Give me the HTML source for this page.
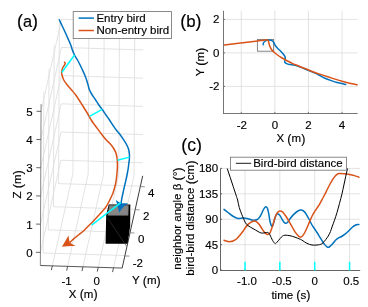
<!DOCTYPE html>
<html><head><meta charset="utf-8"><style>
html,body{margin:0;padding:0;background:#fff;}
svg{display:block;will-change:transform;}
text{font-family:"Liberation Sans",sans-serif;fill:#000;stroke:#000;stroke-width:0.15px;}
</style></head><body>
<svg width="368" height="307" viewBox="0 0 368 307">
<rect width="368" height="307" fill="#fff"/>
<g stroke-linecap="butt">
<line x1="52.34" y1="265.87" x2="72.88" y2="173.68" stroke="#dcdcdc" stroke-width="0.8" />
<line x1="72.88" y1="173.68" x2="73.62" y2="12.29" stroke="#dcdcdc" stroke-width="0.8" />
<line x1="67.64" y1="266.35" x2="88.18" y2="174.16" stroke="#dcdcdc" stroke-width="0.8" />
<line x1="88.18" y1="174.16" x2="88.91" y2="12.77" stroke="#dcdcdc" stroke-width="0.8" />
<line x1="82.93" y1="266.83" x2="103.47" y2="174.64" stroke="#dcdcdc" stroke-width="0.8" />
<line x1="103.47" y1="174.64" x2="104.21" y2="13.25" stroke="#dcdcdc" stroke-width="0.8" />
<line x1="98.23" y1="267.31" x2="118.77" y2="175.12" stroke="#dcdcdc" stroke-width="0.8" />
<line x1="118.77" y1="175.12" x2="119.5" y2="13.73" stroke="#dcdcdc" stroke-width="0.8" />
<line x1="113.52" y1="267.79" x2="134.06" y2="175.6" stroke="#dcdcdc" stroke-width="0.8" />
<line x1="134.06" y1="175.6" x2="134.8" y2="14.21" stroke="#dcdcdc" stroke-width="0.8" />
<line x1="43.14" y1="252.99" x2="124.94" y2="255.55" stroke="#dcdcdc" stroke-width="0.8" />
<line x1="43.14" y1="252.99" x2="43.87" y2="91.6" stroke="#dcdcdc" stroke-width="0.8" />
<line x1="48.29" y1="229.87" x2="130.09" y2="232.43" stroke="#dcdcdc" stroke-width="0.8" />
<line x1="48.29" y1="229.87" x2="49.02" y2="68.47" stroke="#dcdcdc" stroke-width="0.8" />
<line x1="53.44" y1="206.74" x2="135.24" y2="209.3" stroke="#dcdcdc" stroke-width="0.8" />
<line x1="53.44" y1="206.74" x2="54.18" y2="45.35" stroke="#dcdcdc" stroke-width="0.8" />
<line x1="58.59" y1="183.62" x2="140.39" y2="186.18" stroke="#dcdcdc" stroke-width="0.8" />
<line x1="58.59" y1="183.62" x2="59.33" y2="22.23" stroke="#dcdcdc" stroke-width="0.8" />
<line x1="60.95" y1="160.22" x2="142.75" y2="162.78" stroke="#dcdcdc" stroke-width="0.8" />
<line x1="40.41" y1="252.41" x2="60.95" y2="160.22" stroke="#dcdcdc" stroke-width="0.8" />
<line x1="61.08" y1="132.02" x2="142.88" y2="134.58" stroke="#dcdcdc" stroke-width="0.8" />
<line x1="40.54" y1="224.21" x2="61.08" y2="132.02" stroke="#dcdcdc" stroke-width="0.8" />
<line x1="61.21" y1="103.82" x2="143.01" y2="106.38" stroke="#dcdcdc" stroke-width="0.8" />
<line x1="40.67" y1="196.01" x2="61.21" y2="103.82" stroke="#dcdcdc" stroke-width="0.8" />
<line x1="61.34" y1="75.62" x2="143.14" y2="78.18" stroke="#dcdcdc" stroke-width="0.8" />
<line x1="40.79" y1="167.81" x2="61.34" y2="75.62" stroke="#dcdcdc" stroke-width="0.8" />
<line x1="61.47" y1="47.42" x2="143.26" y2="49.98" stroke="#dcdcdc" stroke-width="0.8" />
<line x1="40.92" y1="139.61" x2="61.47" y2="47.42" stroke="#dcdcdc" stroke-width="0.8" />
<line x1="61.59" y1="19.22" x2="143.39" y2="21.78" stroke="#dcdcdc" stroke-width="0.8" />
<line x1="41.05" y1="111.41" x2="61.59" y2="19.22" stroke="#dcdcdc" stroke-width="0.8" />
</g>
<polygon points="108.7,204.6 130.3,204.6 130.2,226 127.7,243.8 105.6,243.8 106.2,215" fill="#000"/>
<polygon points="109.3,205.2 128.6,205.2 128.1,215.4 107.8,215.4" fill="#858585" stroke="#555" stroke-width="0.5"/>
<line x1="107.5" y1="218" x2="126.4" y2="246" stroke="#3a3a3a" stroke-width="0.6" />
<path d="M59.3,19.8 C60.12,21.53 60.95,23.3 61.75,25 C62.55,26.7 63.32,28.33 64.1,30 C64.88,31.67 65.65,33.33 66.4,35 C67.15,36.67 67.88,38.33 68.6,40 C69.32,41.67 70.12,43.33 70.75,45 C71.38,46.67 71.78,48.33 72.4,50 C73.03,51.67 73.65,53.33 74.5,55 C75.35,56.67 76.57,58.33 77.5,60 C78.43,61.67 79.27,63.33 80.1,65 C80.93,66.67 81.72,68.33 82.5,70 C83.28,71.67 84.07,73.33 84.75,75 C85.43,76.67 86.04,78.33 86.6,80 C87.16,81.67 87.65,83.42 88.1,85 C88.55,86.58 88.72,88 89.3,89.5 C89.88,91 90.65,92.42 91.6,94 C92.55,95.58 93.85,97.25 95,99 C96.15,100.75 97.3,102.75 98.5,104.5 C99.7,106.25 100.95,107.75 102.2,109.5 C103.45,111.25 104.78,113.25 106,115 C107.22,116.75 108.38,118.33 109.5,120 C110.62,121.67 111.62,123.33 112.75,125 C113.88,126.67 115.04,128.42 116.25,130 C117.46,131.58 118.86,133 120,134.5 C121.14,136 122.06,137.42 123.1,139 C124.14,140.58 125.35,142.33 126.25,144 C127.15,145.67 127.97,147.33 128.5,149 C129.03,150.67 129.25,152.33 129.4,154 C129.55,155.67 129.51,157.33 129.4,159 C129.29,160.67 128.95,162.42 128.75,164 C128.55,165.58 128.42,167 128.2,168.5 C127.97,170 127.7,171.42 127.4,173 C127.1,174.58 126.76,176.33 126.4,178 C126.04,179.67 125.63,181.33 125.25,183 C124.87,184.67 124.47,186.33 124.1,188 C123.72,189.67 123.37,191.33 123,193 C122.63,194.67 122.17,196.67 121.9,198 C121.63,199.33 121.52,200.17 121.4,201 C121.28,201.83 121.27,202.33 121.2,203" fill="none" stroke="#0072BD" stroke-width="1.5" stroke-linejoin="round" stroke-linecap="round" />
<path d="M64.5,62.2 C64.77,62.57 65.32,62.8 65.3,63.3 C65.28,63.8 64.8,64.5 64.4,65.2 C64,65.9 63.3,66.7 62.9,67.5 C62.5,68.3 62.22,69.17 62,70 C61.78,70.83 61.6,71.67 61.6,72.5 C61.6,73.33 61.64,73.75 62,75 C62.36,76.25 62.88,78.33 63.75,80 C64.62,81.67 65.94,83.33 67.25,85 C68.56,86.67 70.18,88.33 71.6,90 C73.02,91.67 74.5,93.33 75.75,95 C77,96.67 78.02,98.33 79.1,100 C80.18,101.67 81.2,103.33 82.25,105 C83.3,106.67 84.38,108.33 85.4,110 C86.43,111.67 87.43,113.33 88.4,115 C89.37,116.67 90.15,118.33 91.2,120 C92.25,121.67 93.5,123.33 94.7,125 C95.9,126.67 97.15,128.33 98.4,130 C99.65,131.67 100.88,133.33 102.2,135 C103.52,136.67 104.87,138.42 106.3,140 C107.73,141.58 109.52,143 110.8,144.5 C112.08,146 113.12,147.5 114,149 C114.88,150.5 115.6,152 116.1,153.5 C116.6,155 116.78,156.42 117,158 C117.22,159.58 117.33,161.33 117.4,163 C117.47,164.67 117.47,166.33 117.4,168 C117.33,169.67 117.15,171.33 117,173 C116.85,174.67 116.71,176.33 116.5,178 C116.29,179.67 116.08,181.33 115.75,183 C115.42,184.67 114.96,186.33 114.5,188 C114.04,189.67 113.62,191.33 113,193 C112.38,194.67 111.54,196.33 110.75,198 C109.96,199.67 109.11,201.42 108.25,203 C107.39,204.58 106.39,206.33 105.6,207.5 C104.81,208.67 104.6,208.75 103.5,210 C102.4,211.25 100.52,213.33 99,215 C97.48,216.67 96,218.33 94.4,220 C92.8,221.67 91.03,223.33 89.4,225 C87.77,226.67 86.42,228.33 84.6,230 C82.78,231.67 80.22,233.6 78.5,235 C76.78,236.4 75.72,237.18 74.3,238.4 C72.88,239.62 71.43,241 70,242.3" fill="none" stroke="#D95319" stroke-width="1.5" stroke-linejoin="round" stroke-linecap="round" />
<path d="M119.4,212.8 Q117.5,205.5 115.8,200.1 Q119,202.4 121.7,203.3 Q125,203.2 128.1,203.3 Q122,207 119.4,212.8 Z" fill="#0072BD"/>
<path d="M61.9,246.7 Q65.3,241 68.5,235.4 Q68.9,239.5 69.8,242.5 Q72.9,244.7 75.6,246.1 Q68.5,245.8 61.9,246.7 Z" fill="#D95319"/>
<line x1="74.5" y1="55" x2="61.7" y2="72.5" stroke="#00FFFF" stroke-width="1.5" />
<line x1="102.2" y1="109.3" x2="89.5" y2="116.3" stroke="#00FFFF" stroke-width="1.5" />
<line x1="129.4" y1="157.1" x2="117.4" y2="160.3" stroke="#00FFFF" stroke-width="1.5" />
<line x1="120.8" y1="202.7" x2="91.6" y2="225.1" stroke="#00FFFF" stroke-width="1.5" />
<line x1="40.35" y1="265.5" x2="41.08" y2="104.11" stroke="#777" stroke-width="0.9" />
<line x1="40.35" y1="265.5" x2="122.15" y2="268.06" stroke="#444" stroke-width="0.9" />
<line x1="122.15" y1="268.06" x2="142.69" y2="175.87" stroke="#262626" stroke-width="0.9" />
<line x1="40.41" y1="252.41" x2="35.91" y2="252.27" stroke="#555" stroke-width="0.9" />
<line x1="40.54" y1="224.21" x2="36.04" y2="224.07" stroke="#555" stroke-width="0.9" />
<line x1="40.67" y1="196.01" x2="36.17" y2="195.87" stroke="#555" stroke-width="0.9" />
<line x1="40.79" y1="167.81" x2="36.3" y2="167.67" stroke="#555" stroke-width="0.9" />
<line x1="40.92" y1="139.61" x2="36.43" y2="139.47" stroke="#555" stroke-width="0.9" />
<line x1="41.05" y1="111.41" x2="36.55" y2="111.27" stroke="#555" stroke-width="0.9" />
<line x1="52.34" y1="265.87" x2="51.38" y2="270.17" stroke="#444" stroke-width="0.9" />
<line x1="67.64" y1="266.35" x2="66.68" y2="270.65" stroke="#444" stroke-width="0.9" />
<line x1="82.93" y1="266.83" x2="81.97" y2="271.13" stroke="#444" stroke-width="0.9" />
<line x1="98.23" y1="267.31" x2="97.27" y2="271.61" stroke="#444" stroke-width="0.9" />
<line x1="113.52" y1="267.79" x2="112.56" y2="272.09" stroke="#444" stroke-width="0.9" />
<line x1="124.94" y1="255.95" x2="129.33" y2="256.09" stroke="#777" stroke-width="0.8" />
<line x1="130.09" y1="232.83" x2="134.49" y2="232.97" stroke="#777" stroke-width="0.8" />
<line x1="135.24" y1="209.7" x2="139.64" y2="209.84" stroke="#777" stroke-width="0.8" />
<line x1="140.39" y1="186.58" x2="144.79" y2="186.72" stroke="#777" stroke-width="0.8" />
<text x="32.7" y="256.81" text-anchor="end" font-size="11.5" >0</text>
<text x="32.7" y="228.61" text-anchor="end" font-size="11.5" >1</text>
<text x="32.7" y="200.41" text-anchor="end" font-size="11.5" >2</text>
<text x="32.7" y="172.21" text-anchor="end" font-size="11.5" >3</text>
<text x="32.7" y="144.01" text-anchor="end" font-size="11.5" >4</text>
<text x="32.7" y="115.81" text-anchor="end" font-size="11.5" >5</text>
<text x="66.6" y="285.4" text-anchor="middle" font-size="11.5" >-1</text>
<text x="96.8" y="285.4" text-anchor="middle" font-size="11.5" >0</text>
<text x="137.9" y="267.4" text-anchor="middle" font-size="11.5" >-2</text>
<text x="141.3" y="242.5" text-anchor="middle" font-size="11.5" >0</text>
<text x="146.3" y="219.8" text-anchor="middle" font-size="11.5" >2</text>
<text x="151.3" y="197" text-anchor="middle" font-size="11.5" >4</text>
<text x="83.2" y="297.7" text-anchor="middle" font-size="11.5" >X <tspan font-size="12.54" dy="0.75">(</tspan><tspan dy="-0.75">m</tspan><tspan font-size="12.54" dy="0.75">)</tspan></text>
<text x="146.4" y="283.8" text-anchor="middle" font-size="11.5" >Y <tspan font-size="12.54" dy="0.75">(</tspan><tspan dy="-0.75">m</tspan><tspan font-size="12.54" dy="0.75">)</tspan></text>
<text x="0" y="0" text-anchor="middle" font-size="11.5" transform="translate(20.8,184.4) rotate(-90)">Z <tspan font-size="12.54" dy="0.75">(</tspan><tspan dy="-0.75">m</tspan><tspan font-size="12.54" dy="0.75">)</tspan></text>
<rect x="73.2" y="11.6" width="98.3" height="27" fill="#fff" stroke="#6e6e6e" stroke-width="0.8"/>
<line x1="78.6" y1="18.1" x2="93.9" y2="18.1" stroke="#0072BD" stroke-width="1.5" />
<line x1="78.6" y1="30.5" x2="93.9" y2="30.5" stroke="#D95319" stroke-width="1.5" />
<text x="96.4" y="21.7" text-anchor="start" font-size="11.5" >Entry bird</text>
<text x="96.4" y="34.3" text-anchor="start" font-size="11.5" >Non-entry bird</text>
<text y="27.4" font-size="17.9"><tspan x="17.1">(</tspan><tspan x="23.06" font-size="16.3">a</tspan><tspan x="32.12">)</tspan></text>
<line x1="241.25" y1="10.8" x2="241.25" y2="113.5" stroke="#dcdcdc" stroke-width="0.8" />
<line x1="274.85" y1="10.8" x2="274.85" y2="113.5" stroke="#dcdcdc" stroke-width="0.8" />
<line x1="308.45" y1="10.8" x2="308.45" y2="113.5" stroke="#dcdcdc" stroke-width="0.8" />
<line x1="342.05" y1="10.8" x2="342.05" y2="113.5" stroke="#dcdcdc" stroke-width="0.8" />
<line x1="223.5" y1="86.4" x2="357.7" y2="86.4" stroke="#dcdcdc" stroke-width="0.8" />
<line x1="223.5" y1="52.9" x2="357.7" y2="52.9" stroke="#dcdcdc" stroke-width="0.8" />
<line x1="223.5" y1="19.4" x2="357.7" y2="19.4" stroke="#dcdcdc" stroke-width="0.8" />
<rect x="257.4" y="39.5" width="16.2" height="11.7" fill="none" stroke="#7a7a7a" stroke-width="0.9"/>
<clipPath id="cb"><rect x="223.5" y="10.8" width="134.2" height="102.7"/></clipPath>
<g clip-path="url(#cb)">
<path d="M263.1,44.75 C263.23,44.08 263.18,43.33 263.5,42.75 C263.82,42.17 264.45,41.66 265,41.25 C265.55,40.84 266.18,40.51 266.8,40.3 C267.43,40.09 267.9,39.95 268.75,40 C269.6,40.05 271.07,40.18 271.9,40.6 C272.73,41.02 273.23,41.77 273.75,42.5 C274.27,43.23 274.48,44.17 275,45 C275.52,45.83 276.17,46.67 276.9,47.5 C277.63,48.33 278.57,49.17 279.4,50 C280.23,50.83 281.13,51.67 281.9,52.5 C282.67,53.33 283.44,54.17 284,55 C284.56,55.83 285.08,56.67 285.25,57.5 C285.42,58.33 285.09,59.27 285,60 C284.91,60.73 284.6,61.38 284.7,61.9 C284.8,62.42 285.05,62.73 285.6,63.1 C286.15,63.47 287.18,63.85 288,64.1 C288.82,64.35 289.33,64.38 290.5,64.6 C291.67,64.82 292.58,64.67 295,65.4 C297.42,66.13 301.67,67.72 305,69 C308.33,70.28 312.5,72 315,73.1 C317.5,74.2 318.33,74.73 320,75.6 C321.67,76.47 323,77.42 325,78.3 C327,79.18 330,80.2 332,80.9 C334,81.6 335.33,82.05 337,82.5 C338.67,82.95 340.54,83.28 342,83.6 C343.46,83.92 344.5,84.13 345.75,84.4" fill="none" stroke="#0072BD" stroke-width="1.5" stroke-linejoin="round" stroke-linecap="round" />
<path d="M223.5,45 C226.5,44.67 228.92,44.42 232.5,44 C236.08,43.58 240.83,43 245,42.5 C249.17,42 254.67,41.35 257.5,41 C260.33,40.65 260.67,40.56 262,40.4 C263.33,40.24 264.6,40.13 265.5,40.05 C266.4,39.97 266.95,39.82 267.4,39.9 C267.85,39.98 267.98,40.1 268.2,40.5 C268.42,40.9 268.5,41.55 268.7,42.3 C268.9,43.05 269.12,44.13 269.4,45 C269.68,45.87 269.98,46.67 270.4,47.5 C270.82,48.33 271.23,49.17 271.9,50 C272.57,50.83 273.47,51.67 274.4,52.5 C275.33,53.33 276.36,54.17 277.5,55 C278.64,55.83 279.9,56.67 281.25,57.5 C282.6,58.33 284.04,59.17 285.6,60 C287.16,60.83 288.95,61.7 290.6,62.5 C292.25,63.3 293.1,63.8 295.5,64.8 C297.9,65.8 301.75,67.22 305,68.5 C308.25,69.78 312.17,71.43 315,72.5 C317.83,73.57 319.17,73.97 322,74.9 C324.83,75.83 328.67,77.03 332,78.1 C335.33,79.17 338.67,80.35 342,81.3 C345.33,82.25 349.4,83.22 352,83.8 C354.6,84.38 355.73,84.43 357.6,84.75" fill="none" stroke="#D95319" stroke-width="1.5" stroke-linejoin="round" stroke-linecap="round" />
</g>
<line x1="223.5" y1="10.8" x2="223.5" y2="113.95" stroke="#666" stroke-width="0.9" />
<line x1="223.05" y1="113.5" x2="357.7" y2="113.5" stroke="#666" stroke-width="0.9" />
<line x1="241.25" y1="113.5" x2="241.25" y2="111.9" stroke="#666" stroke-width="0.9" />
<line x1="274.85" y1="113.5" x2="274.85" y2="111.9" stroke="#666" stroke-width="0.9" />
<line x1="308.45" y1="113.5" x2="308.45" y2="111.9" stroke="#666" stroke-width="0.9" />
<line x1="342.05" y1="113.5" x2="342.05" y2="111.9" stroke="#666" stroke-width="0.9" />
<line x1="223.5" y1="86.4" x2="225.1" y2="86.4" stroke="#666" stroke-width="0.9" />
<line x1="223.5" y1="52.9" x2="225.1" y2="52.9" stroke="#666" stroke-width="0.9" />
<line x1="223.5" y1="19.4" x2="225.1" y2="19.4" stroke="#666" stroke-width="0.9" />
<text x="241.75" y="128.6" text-anchor="middle" font-size="11.5" >-2</text>
<text x="274.85" y="128.6" text-anchor="middle" font-size="11.5" >0</text>
<text x="308.45" y="128.6" text-anchor="middle" font-size="11.5" >2</text>
<text x="342.05" y="128.6" text-anchor="middle" font-size="11.5" >4</text>
<text x="219.5" y="90.4" text-anchor="end" font-size="11.5" >-2</text>
<text x="219.5" y="56.9" text-anchor="end" font-size="11.5" >0</text>
<text x="219.5" y="23.4" text-anchor="end" font-size="11.5" >2</text>
<text x="290.9" y="142.2" text-anchor="middle" font-size="11.5" >X <tspan font-size="12.54" dy="0.75">(</tspan><tspan dy="-0.75">m</tspan><tspan font-size="12.54" dy="0.75">)</tspan></text>
<text x="0" y="0" text-anchor="middle" font-size="11.5" transform="translate(204.3,62) rotate(-90)">Y <tspan font-size="12.54" dy="0.75">(</tspan><tspan dy="-0.75">m</tspan><tspan font-size="12.54" dy="0.75">)</tspan></text>
<text y="27" font-size="17.9"><tspan x="180.2">(</tspan><tspan x="186.16" font-size="16.8">b</tspan><tspan x="195.5">)</tspan></text>
<line x1="245" y1="168.4" x2="245" y2="270.5" stroke="#dcdcdc" stroke-width="0.8" />
<line x1="279.85" y1="168.4" x2="279.85" y2="270.5" stroke="#dcdcdc" stroke-width="0.8" />
<line x1="314.7" y1="168.4" x2="314.7" y2="270.5" stroke="#dcdcdc" stroke-width="0.8" />
<line x1="349.55" y1="168.4" x2="349.55" y2="270.5" stroke="#dcdcdc" stroke-width="0.8" />
<line x1="220.5" y1="244.68" x2="360.2" y2="244.68" stroke="#dcdcdc" stroke-width="0.8" />
<line x1="220.5" y1="219.25" x2="360.2" y2="219.25" stroke="#dcdcdc" stroke-width="0.8" />
<line x1="220.5" y1="193.83" x2="360.2" y2="193.83" stroke="#dcdcdc" stroke-width="0.8" />
<line x1="220.5" y1="168.4" x2="360.2" y2="168.4" stroke="#dcdcdc" stroke-width="0.8" />
<clipPath id="cc"><rect x="220.5" y="168.4" width="139.7" height="102.1"/></clipPath>
<g clip-path="url(#cc)">
<path d="M224,209.4 C225.33,210.43 226.5,211.36 228,212.5 C229.5,213.64 231.33,215.25 233,216.25 C234.67,217.25 236.33,218.19 238,218.5 C239.67,218.81 241.33,218.06 243,218.1 C244.67,218.14 246.33,218.39 248,218.75 C249.67,219.11 251.54,220.08 253,220.25 C254.46,220.42 255.71,220.19 256.75,219.75 C257.79,219.31 258.46,218.59 259.25,217.6 C260.04,216.61 260.84,215.07 261.5,213.8 C262.16,212.53 262.62,211.09 263.2,210 C263.78,208.91 264.49,207.78 265,207.25 C265.51,206.72 265.83,206.59 266.25,206.8 C266.67,207.01 267.08,207.34 267.5,208.5 C267.92,209.66 268.33,211.62 268.75,213.75 C269.17,215.88 269.58,219.31 270,221.25 C270.42,223.19 270.83,224.59 271.25,225.4 C271.67,226.21 272.08,226.58 272.5,226.1 C272.92,225.62 273.23,224.14 273.75,222.5 C274.27,220.86 274.98,217.71 275.6,216.25 C276.23,214.79 276.77,213.86 277.5,213.75 C278.23,213.64 279.17,214.56 280,215.6 C280.83,216.64 281.67,218.75 282.5,220 C283.33,221.25 284.17,222.68 285,223.1 C285.83,223.52 286.67,223.22 287.5,222.5 C288.33,221.78 288.96,220.1 290,218.75 C291.04,217.4 292.5,215.65 293.75,214.4 C295,213.15 296.25,211.97 297.5,211.25 C298.75,210.53 300.08,209.99 301.25,210.1 C302.42,210.21 303.54,210.98 304.5,211.9 C305.46,212.82 306.17,214.25 307,215.6 C307.83,216.95 308.67,218.43 309.5,220 C310.33,221.57 311.17,223.54 312,225 C312.83,226.46 313.67,227.5 314.5,228.75 C315.33,230 315.96,230.86 317,232.5 C318.04,234.14 319.5,236.62 320.75,238.6 C322,240.58 323.46,243.02 324.5,244.4 C325.54,245.78 326.27,246.43 327,246.9 C327.73,247.37 328.07,247.58 328.9,247.2 C329.73,246.82 330.86,245.8 332,244.6 C333.14,243.4 334.5,241.2 335.75,240 C337,238.8 338.46,238.03 339.5,237.4 C340.54,236.78 340.75,237.07 342,236.25 C343.25,235.43 345.33,233.96 347,232.5 C348.67,231.04 350.54,228.75 352,227.5 C353.46,226.25 354.6,225.52 355.75,225 C356.9,224.48 357.85,224.6 358.9,224.4" fill="none" stroke="#0072BD" stroke-width="1.5" stroke-linejoin="round" stroke-linecap="round" />
<path d="M224,240.25 C225.33,240.67 226.92,241.28 228,241.5 C229.08,241.72 229.67,241.68 230.5,241.6 C231.33,241.52 231.96,241.47 233,241 C234.04,240.53 235.5,239.85 236.75,238.75 C238,237.65 239.46,235.65 240.5,234.4 C241.54,233.15 242.38,232.08 243,231.25 C243.62,230.42 243.42,230.54 244.25,229.4 C245.08,228.26 246.54,225.76 248,224.4 C249.46,223.04 251.75,221.78 253,221.25 C254.25,220.72 254.67,220.94 255.5,221.25 C256.33,221.56 257.2,222.31 258,223.1 C258.8,223.89 259.55,224.92 260.3,226 C261.05,227.08 261.72,228.45 262.5,229.6 C263.28,230.75 264.17,232.1 265,232.9 C265.83,233.7 266.67,234.42 267.5,234.4 C268.33,234.38 269.17,234.16 270,232.8 C270.83,231.44 271.67,228.8 272.5,226.25 C273.33,223.7 274.17,219.79 275,217.5 C275.83,215.21 276.67,213.58 277.5,212.5 C278.33,211.42 279.17,211.1 280,211 C280.83,210.9 281.67,211.23 282.5,211.9 C283.33,212.57 284.17,213.86 285,215 C285.83,216.14 286.67,217.4 287.5,218.75 C288.33,220.1 289.17,221.64 290,223.1 C290.83,224.56 291.67,226.03 292.5,227.5 C293.33,228.97 294.17,230.65 295,231.9 C295.83,233.15 296.67,234.13 297.5,235 C298.33,235.87 299.17,236.93 300,237.1 C300.83,237.27 301.7,236.77 302.5,236 C303.3,235.23 304.05,233.87 304.8,232.5 C305.55,231.13 306.22,229.57 307,227.8 C307.78,226.03 308.67,223.83 309.5,221.9 C310.33,219.97 311.17,217.92 312,216.25 C312.83,214.58 313.67,213.26 314.5,211.9 C315.33,210.54 316.17,209.35 317,208.1 C317.83,206.85 318.67,205.82 319.5,204.4 C320.33,202.98 321.17,201.17 322,199.6 C322.83,198.03 323.67,196.6 324.5,195 C325.33,193.4 326.17,191.67 327,190 C327.83,188.33 328.67,186.57 329.5,185 C330.33,183.43 331.17,181.95 332,180.6 C332.83,179.25 333.67,177.93 334.5,176.9 C335.33,175.87 336.17,174.97 337,174.4 C337.83,173.83 338.25,173.61 339.5,173.5 C340.75,173.39 342.83,173.6 344.5,173.75 C346.17,173.9 347.83,174.09 349.5,174.4 C351.17,174.71 352.93,175.12 354.5,175.6 C356.07,176.07 357.43,176.7 358.9,177.25" fill="none" stroke="#D95319" stroke-width="1.5" stroke-linejoin="round" stroke-linecap="round" />
<path d="M227.2,168.4 C228.23,171.5 229.3,174.68 230.3,177.7 C231.3,180.72 232.25,183.62 233.2,186.5 C234.15,189.38 235.27,192.75 236,195 C236.73,197.25 237.06,197.92 237.6,200 C238.14,202.08 238.56,205.1 239.25,207.5 C239.94,209.9 241.03,212.53 241.75,214.4 C242.47,216.28 242.97,217.33 243.6,218.75 C244.22,220.17 244.77,221.76 245.5,222.9 C246.23,224.04 246.75,224.65 248,225.6 C249.25,226.55 251.33,227.62 253,228.6 C254.67,229.58 256.58,230.75 258,231.5 C259.42,232.25 260.33,232.89 261.5,233.1 C262.67,233.31 264,232.87 265,232.75 C266,232.63 266.88,232.36 267.5,232.4 C268.12,232.44 268.33,232.57 268.75,233 C269.17,233.43 269.38,233.78 270,235 C270.62,236.22 271.67,238.88 272.5,240.3 C273.33,241.72 274.27,243.15 275,243.5 C275.73,243.85 276.07,243.22 276.9,242.4 C277.73,241.58 279.07,239.65 280,238.6 C280.93,237.55 281.67,236.67 282.5,236.1 C283.33,235.53 283.75,235.27 285,235.2 C286.25,235.13 288.33,235.37 290,235.7 C291.67,236.03 293.33,236.62 295,237.2 C296.67,237.78 298.83,238.7 300,239.2 C301.17,239.7 300.83,239.5 302,240.2 C303.17,240.9 305.33,242.6 307,243.4 C308.67,244.2 310.33,244.73 312,245 C313.67,245.27 315.33,245.21 317,245 C318.67,244.79 320.54,244.67 322,243.75 C323.46,242.83 324.71,240.79 325.75,239.5 C326.79,238.21 327.46,237.33 328.25,236 C329.04,234.67 329.88,233 330.5,231.5 C331.12,230 331.33,228.88 332,227 C332.67,225.12 333.67,222.62 334.5,220.2 C335.33,217.78 336.17,215.3 337,212.5 C337.83,209.7 338.67,206.53 339.5,203.4 C340.33,200.28 341.27,196.82 342,193.75 C342.73,190.68 343.27,187.92 343.9,185 C344.52,182.08 345.13,179.07 345.75,176.25 C346.37,173.43 346.98,170.82 347.6,168.1" fill="none" stroke="#000" stroke-width="1.0" stroke-linejoin="round" stroke-linecap="round" />
</g>
<line x1="220.5" y1="168.4" x2="220.5" y2="271" stroke="#666" stroke-width="1.0" />
<line x1="220" y1="270.5" x2="360.2" y2="270.5" stroke="#666" stroke-width="1.0" />
<line x1="220.5" y1="270.1" x2="222.1" y2="270.1" stroke="#555" stroke-width="0.9" />
<line x1="220.5" y1="244.68" x2="222.1" y2="244.68" stroke="#555" stroke-width="0.9" />
<line x1="220.5" y1="219.25" x2="222.1" y2="219.25" stroke="#555" stroke-width="0.9" />
<line x1="220.5" y1="193.83" x2="222.1" y2="193.83" stroke="#555" stroke-width="0.9" />
<line x1="220.5" y1="168.4" x2="222.1" y2="168.4" stroke="#555" stroke-width="0.9" />
<line x1="245" y1="270.5" x2="245" y2="268.9" stroke="#555" stroke-width="0.9" />
<line x1="279.85" y1="270.5" x2="279.85" y2="268.9" stroke="#555" stroke-width="0.9" />
<line x1="314.7" y1="270.5" x2="314.7" y2="268.9" stroke="#555" stroke-width="0.9" />
<line x1="349.55" y1="270.5" x2="349.55" y2="268.9" stroke="#555" stroke-width="0.9" />
<line x1="245" y1="261.8" x2="245" y2="270.5" stroke="#00FFFF" stroke-width="1.5" />
<line x1="279.85" y1="261.8" x2="279.85" y2="270.5" stroke="#00FFFF" stroke-width="1.5" />
<line x1="314.7" y1="261.8" x2="314.7" y2="270.5" stroke="#00FFFF" stroke-width="1.5" />
<line x1="349.55" y1="261.8" x2="349.55" y2="270.5" stroke="#00FFFF" stroke-width="1.5" />
<text x="218.1" y="274.1" text-anchor="end" font-size="11.5" >0</text>
<text x="218.1" y="248.68" text-anchor="end" font-size="11.5" >45</text>
<text x="218.1" y="223.25" text-anchor="end" font-size="11.5" >90</text>
<text x="218.1" y="197.83" text-anchor="end" font-size="11.5" >135</text>
<text x="218.1" y="172.4" text-anchor="end" font-size="11.5" >180</text>
<text x="247" y="285" text-anchor="middle" font-size="11.5" >-1.0</text>
<text x="281.85" y="285" text-anchor="middle" font-size="11.5" >-0.5</text>
<text x="314.7" y="285" text-anchor="middle" font-size="11.5" >0</text>
<text x="351.25" y="285" text-anchor="middle" font-size="11.5" >0.5</text>
<text x="290.9" y="298.5" text-anchor="middle" font-size="11.5" >time <tspan font-size="12.54" dy="0.75">(</tspan><tspan dy="-0.75">s</tspan><tspan font-size="12.54" dy="0.75">)</tspan></text>
<text x="0" y="0" text-anchor="middle" font-size="11.5" transform="translate(181.2,218.6) rotate(-90)">neighbor angle &#946; <tspan font-size="12.54" dy="0.75">(</tspan><tspan dy="-0.75">&#176;</tspan><tspan font-size="12.54" dy="0.75">)</tspan></text>
<text x="0" y="0" text-anchor="middle" font-size="11.5" transform="translate(194.3,218.2) rotate(-90)">bird-bird distance <tspan font-size="12.54" dy="0.75">(</tspan><tspan dy="-0.75">cm</tspan><tspan font-size="12.54" dy="0.75">)</tspan></text>
<rect x="230.4" y="157.2" width="116.2" height="13" fill="#fff" stroke="#6e6e6e" stroke-width="0.8"/>
<line x1="235.8" y1="163.3" x2="251.2" y2="163.3" stroke="#000" stroke-width="0.9" />
<text x="253.2" y="167.3" text-anchor="start" font-size="11.5" >Bird-bird distance</text>
<text y="150.8" font-size="17.9"><tspan x="181.3">(</tspan><tspan x="187.26" font-size="17.6">c</tspan><tspan x="196.06">)</tspan></text>
</svg>
</body></html>
